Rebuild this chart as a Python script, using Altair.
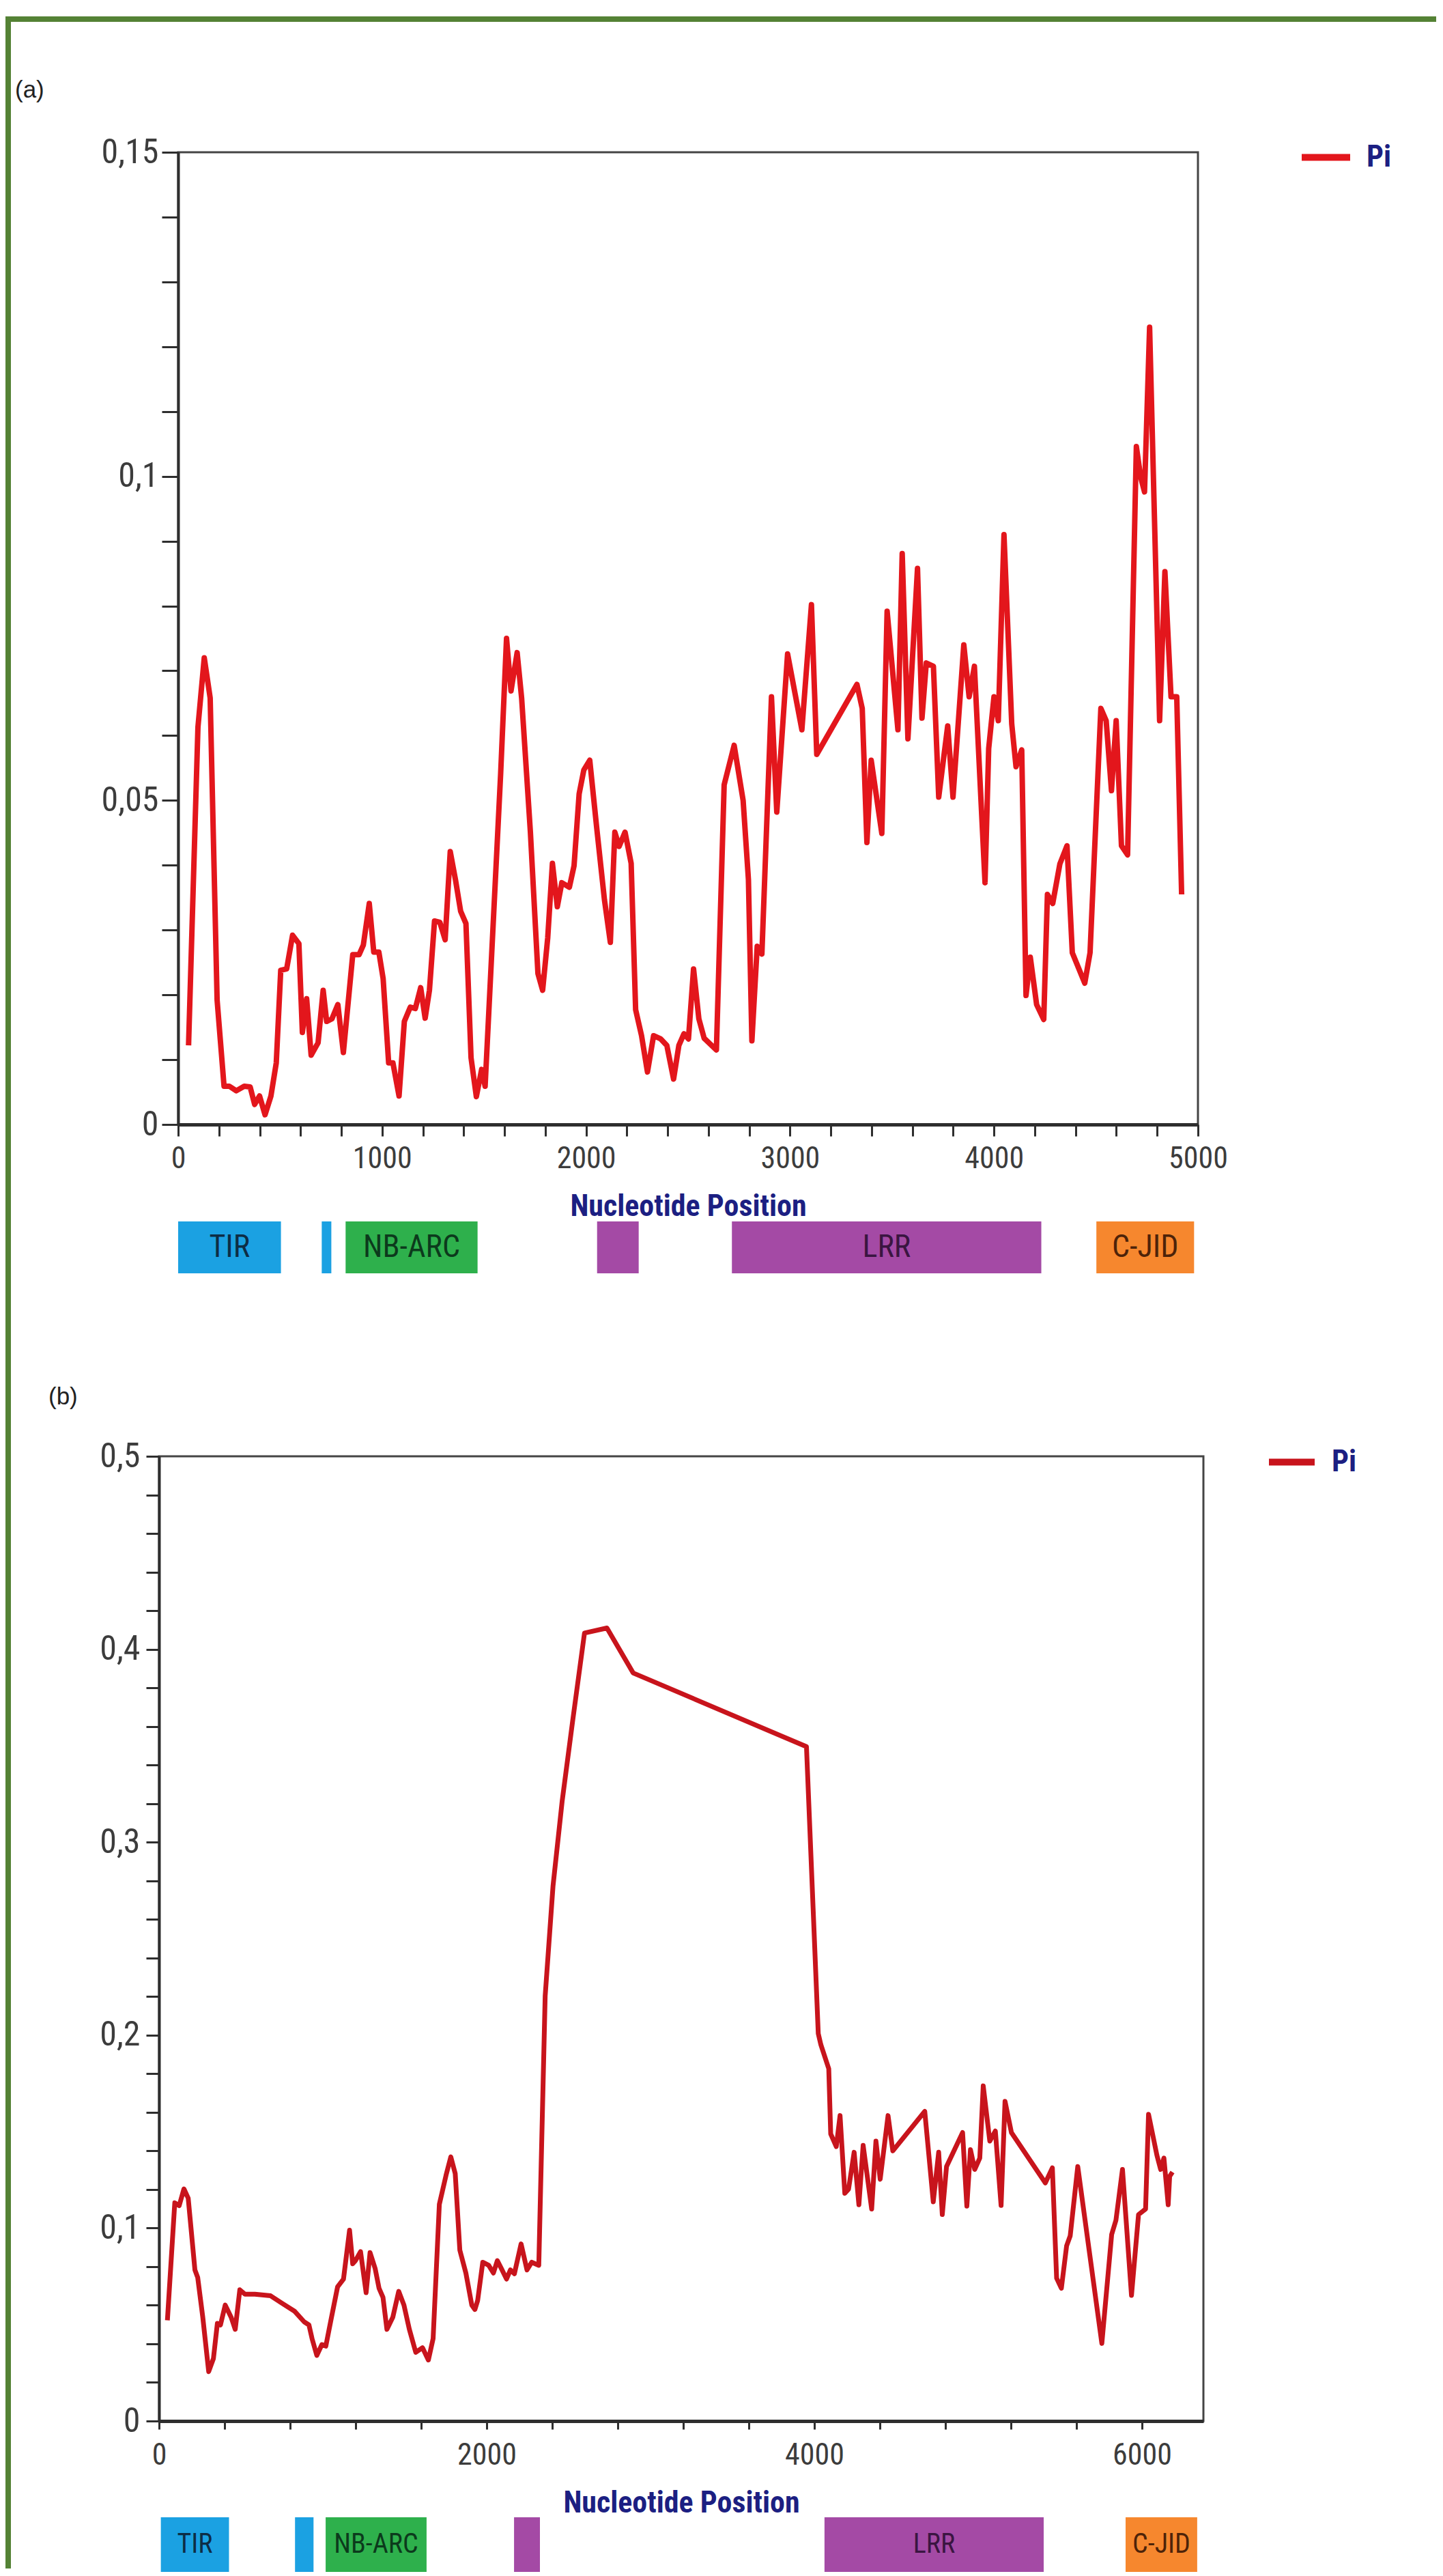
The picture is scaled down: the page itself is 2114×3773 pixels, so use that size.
import altair as alt
import pandas as pd

# ------------------------------------------------------------------ data
# Panel (a): nucleotide diversity (Pi) along the alignment
A_POS = [51, 97, 128, 157, 191, 225, 251, 285, 324, 353,
         375, 399, 426, 455, 481, 503, 532, 561, 592, 609,
         630, 652, 686, 711, 728, 754, 783, 810, 856, 887,
         908, 937, 959, 984, 1005, 1032, 1053, 1083, 1109, 1138,
         1163, 1189, 1211, 1232, 1257, 1283, 1309, 1334, 1360, 1385,
         1411, 1436, 1462, 1488, 1505, 1581, 1610, 1632, 1662, 1684,
         1727, 1764, 1787, 1812, 1835, 1859, 1881, 1918, 1941, 1966,
         1989, 2018, 2052, 2090, 2119, 2141, 2162, 2191, 2221, 2243,
         2272, 2301, 2331, 2366, 2396, 2429, 2455, 2480, 2502, 2527,
         2553, 2579, 2639, 2677, 2726, 2770, 2796, 2813, 2839, 2862,
         2909, 2935, 2988, 3058, 3105, 3131, 3328, 3354, 3377, 3398,
         3450, 3476, 3529, 3550, 3578, 3625, 3647, 3668, 3703, 3729,
         3773, 3799, 3852, 3878, 3904, 3956, 3974, 4000, 4021, 4049,
         4087, 4108, 4136, 4157, 4178, 4209, 4244, 4262, 4288, 4323,
         4358, 4384, 4445, 4471, 4524, 4550, 4576, 4599, 4625, 4655,
         4698, 4719, 4738, 4763, 4812, 4838, 4868, 4896, 4920]
A_PI = [0.0122, 0.0613, 0.072, 0.0658, 0.0192, 0.0059, 0.0059, 0.0052, 0.0059, 0.0058,
        0.0031, 0.0044, 0.0015, 0.0044, 0.0095, 0.0238, 0.024, 0.0292, 0.0279, 0.0142,
        0.0194, 0.0107, 0.0126, 0.0207, 0.0159, 0.0163, 0.0185, 0.0111, 0.0262, 0.0262,
        0.0277, 0.0341, 0.0266, 0.0266, 0.0225, 0.0095, 0.0095, 0.0044, 0.0159, 0.0181,
        0.0179, 0.0211, 0.0164, 0.0207, 0.0314, 0.0312, 0.0285, 0.0421, 0.0377, 0.0329,
        0.031, 0.0103, 0.0043, 0.0085, 0.0059, 0.054, 0.075, 0.0669, 0.0728, 0.0658,
        0.0451, 0.0233, 0.0207, 0.0288, 0.0403, 0.0336, 0.0373, 0.0366, 0.0399, 0.051,
        0.0547, 0.0562, 0.0458, 0.0347, 0.0281, 0.0451, 0.0429, 0.0451, 0.0403, 0.0177,
        0.0137, 0.0081, 0.0137, 0.0132, 0.0122, 0.007, 0.0122, 0.014, 0.0132, 0.024,
        0.0163, 0.0133, 0.0115, 0.0524, 0.0585, 0.05, 0.0378, 0.0129, 0.0275, 0.0263,
        0.066, 0.0482, 0.0726, 0.0609, 0.0802, 0.0571, 0.0679, 0.0642, 0.0435, 0.0562,
        0.0449, 0.0792, 0.0609, 0.0881, 0.0595, 0.0858, 0.0627, 0.0712, 0.0707, 0.0505,
        0.0615, 0.0505, 0.074, 0.066, 0.0707, 0.0373, 0.058, 0.066, 0.0623, 0.091,
        0.0618, 0.0552, 0.0578, 0.0199, 0.0258, 0.0185, 0.0162, 0.0355, 0.0341, 0.0402,
        0.043, 0.0265, 0.0218, 0.0265, 0.0642, 0.0623, 0.0515, 0.0623, 0.043, 0.0416,
        0.1046, 0.0999, 0.0976, 0.123, 0.0623, 0.0853, 0.066, 0.066, 0.0355]

# Panel (b)
B_POS = [51, 96, 123, 152, 178, 219, 236, 267, 303, 332,
         356, 375, 404, 440, 465, 493, 525, 585, 681, 753,
         826, 886, 915, 934, 963, 994, 1018, 1049, 1090, 1126,
         1163, 1182, 1199, 1230, 1264, 1288, 1319, 1343, 1367, 1391,
         1427, 1463, 1495, 1528, 1567, 1608, 1644, 1673, 1711, 1752,
         1781, 1808, 1836, 1873, 1909, 1928, 1945, 1976, 2012, 2041,
         2065, 2089, 2121, 2145, 2169, 2210, 2246, 2275, 2318, 2357,
         2405, 2461, 2525, 2597, 2734, 2894, 3952, 4024, 4040, 4088, 4100,
         4134, 4157, 4186, 4209, 4243, 4272, 4298, 4350, 4376, 4402,
         4450, 4479, 4674, 4726, 4759, 4781, 4807, 4905, 4931, 4953,
         4979, 5010, 5031, 5071, 5105, 5140, 5164, 5203, 5410, 5453,
         5479, 5508, 5540, 5562, 5608, 5755, 5815, 5841, 5881, 5936,
         5979, 6022, 6040, 6091, 6114, 6134, 6160, 6169, 6186]
B_PI = [0.0522, 0.1131, 0.1116, 0.1203, 0.1155, 0.0783, 0.0744, 0.0538, 0.0256, 0.0324,
        0.0506, 0.0498, 0.0601, 0.0538, 0.0475, 0.068, 0.0657, 0.0657, 0.0649, 0.0609,
        0.057, 0.0514, 0.0498, 0.0427, 0.034, 0.0396, 0.0388, 0.0522, 0.0696, 0.0736,
        0.0989, 0.0815, 0.0831, 0.0878, 0.0665, 0.0873, 0.0791, 0.0688, 0.0641, 0.0475,
        0.0538, 0.0672, 0.0601, 0.0475, 0.0356, 0.038, 0.0316, 0.0427, 0.1123, 0.1274,
        0.1369, 0.1282, 0.0886, 0.0767, 0.0601, 0.0578, 0.0625, 0.0823, 0.0807, 0.0767,
        0.0831, 0.0791, 0.0736, 0.0783, 0.0763, 0.0918, 0.0783, 0.0823, 0.0807, 0.2203,
        0.2774, 0.3215, 0.363, 0.4084, 0.411, 0.3877, 0.3495, 0.2008, 0.195, 0.1826, 0.1488,
        0.1422, 0.1583, 0.118, 0.1202, 0.1393, 0.1121, 0.1429, 0.1099, 0.1451, 0.1253,
        0.1583, 0.14, 0.1605, 0.1136, 0.1393, 0.107, 0.1319, 0.1495, 0.1114, 0.1407,
        0.1304, 0.1363, 0.1737, 0.1451, 0.1503, 0.1117, 0.1657, 0.1495, 0.1234, 0.1312,
        0.074, 0.0688, 0.0908, 0.096, 0.1319, 0.0402, 0.0967, 0.104, 0.1304, 0.0651,
        0.107, 0.1099, 0.159, 0.1378, 0.1304, 0.1363, 0.1121, 0.1268, 0.129]

assert len(A_POS) == len(A_PI) and len(B_POS) == len(B_PI)

# Protein domain annotation under each panel
DOMAIN_NAMES = ["TIR", "", "NB-ARC", "", "LRR", "C-JID"]
DOMAIN_FILL = ["#1ba1e2", "#1ba1e2", "#2eb04c", "#a44aa5", "#a44aa5", "#f6872e"]
DOMAIN_INK = ["#0d2d45", "#0d2d45", "#0c3a1c", "#3a1541", "#3a1541", "#4d2309"]
A_DOM_START = [0, 704, 821, 2054, 2715, 4502]
A_DOM_END = [504, 751, 1468, 2258, 4232, 4981]
B_DOM_START = [11, 830, 1017, 2167, 4062, 5900]
B_DOM_END = [427, 943, 1633, 2325, 5400, 6337]

# Axes
A_X_DOMAIN = [0, 5000]
A_Y_DOMAIN = [0, 0.15]
A_X_TICKS = [0, 200, 400, 600, 800, 1000, 1200, 1400, 1600, 1800, 2000, 2200, 2400,
             2600, 2800, 3000, 3200, 3400, 3600, 3800, 4000, 4200, 4400, 4600, 4800, 5000]
A_X_LABEL_VALUES = [0, 1000, 2000, 3000, 4000, 5000]
A_X_LABEL_TEXT = ["0", "1000", "2000", "3000", "4000", "5000"]
A_Y_TICKS = [0, 0.01, 0.02, 0.03, 0.04, 0.05, 0.06, 0.07, 0.08, 0.09, 0.1,
             0.11, 0.12, 0.13, 0.14, 0.15]
A_Y_LABEL_VALUES = [0, 0.05, 0.1, 0.15]
A_Y_LABEL_TEXT = ["0", "0,05", "0,1", "0,15"]

B_X_DOMAIN = [0, 6375]
B_Y_DOMAIN = [0, 0.5]
B_X_TICKS = [0, 400, 800, 1200, 1600, 2000, 2400, 2800, 3200, 3600, 4000,
             4400, 4800, 5200, 5600, 6000]
B_X_LABEL_VALUES = [0, 2000, 4000, 6000]
B_X_LABEL_TEXT = ["0", "2000", "4000", "6000"]
B_Y_TICKS = [0, 0.02, 0.04, 0.06, 0.08, 0.1, 0.12, 0.14, 0.16, 0.18, 0.2,
             0.22, 0.24, 0.26, 0.28, 0.3, 0.32, 0.34, 0.36, 0.38, 0.4,
             0.42, 0.44, 0.46, 0.48, 0.5]
B_Y_LABEL_VALUES = [0, 0.1, 0.2, 0.3, 0.4, 0.5]
B_Y_LABEL_TEXT = ["0", "0,1", "0,2", "0,3", "0,4", "0,5"]

SERIES = "Pi"
X_TITLE = "Nucleotide Position"

# ------------------------------------------------------------------ style
FONT_N = "'Liberation Sans Narrow', 'Arial Narrow', 'Roboto Condensed', 'Liberation Sans', sans-serif"
FONT_R = "'Liberation Sans', Arial, sans-serif"
GREEN = "#548235"
NAVY = "#1c1f82"
AXIS = "#2e2e2e"
LABEL = "#3c3c3c"


def label_expr(values, texts):
    expr = "''"
    for v, t in reversed(list(zip(values, texts))):
        expr = f"datum.value === {v} ? '{t}' : {expr}"
    return expr


def line_panel(pos, pi, field, xdom, xticks, xlv, xlt, ydom, yticks, ylv, ylt,
               w, h, color, sw, xtick, ytick, ylabpad, yext, leg_x, leg_y, sym_len,
               lab_off, letter, let_x, let_y):
    df = pd.DataFrame({"pos": pos, "pi": pi, field: SERIES})
    yaxis_kw = dict(values=yticks, labelExpr=label_expr(ylv, ylt), title=None,
                    tickSize=ytick, tickWidth=3, tickColor=AXIS,
                    domainColor=AXIS, domainWidth=4, grid=False,
                    labelFont=FONT_N, labelFontSize=50, labelColor=LABEL,
                    labelPadding=ylabpad, labelOverlap=False, labelFlush=False)
    if yext is not None:
        yaxis_kw.update(minExtent=yext, maxExtent=yext)
    line = alt.Chart(df).mark_line(strokeWidth=sw, strokeJoin="round").encode(
        x=alt.X("pos:Q", scale=alt.Scale(domain=xdom, nice=False, zero=False),
                axis=alt.Axis(values=xticks, labelExpr=label_expr(xlv, xlt),
                              title=X_TITLE, titleFont=FONT_N, titleFontSize=44,
                              titleFontWeight="bold", titleColor=NAVY, titlePadding=26,
                              tickSize=xtick, tickWidth=3, tickColor=AXIS,
                              domainColor=AXIS, domainWidth=5, grid=False,
                              labelFont=FONT_N, labelFontSize=44, labelColor=LABEL,
                              labelPadding=28 - xtick, labelOverlap=False,
                              labelFlush=False)),
        y=alt.Y("pi:Q", scale=alt.Scale(domain=ydom, nice=False),
                axis=alt.Axis(**yaxis_kw)),
        color=alt.Color(f"{field}:N", scale=alt.Scale(domain=[SERIES], range=[color]),
                        legend=alt.Legend(title=None, orient="none", legendX=leg_x,
                                          legendY=leg_y, symbolType="stroke",
                                          symbolSize=sym_len * sym_len,
                                          symbolStrokeWidth=10, padding=0,
                                          labelFont=FONT_N, labelFontSize=44,
                                          labelFontWeight="bold", labelColor=NAVY,
                                          labelOffset=lab_off)),
    )
    tag = alt.Chart(pd.DataFrame({"t": [letter]})).mark_text(
        align="left", baseline="top", font=FONT_R, fontSize=35, color="#222222"
    ).encode(x=alt.value(let_x), y=alt.value(let_y), text="t:N")
    return alt.layer(line, tag).properties(
        width=w, height=h,
        view=alt.ViewBackground(stroke="#444444", strokeWidth=3, fill="white"))


def domain_bar(starts, ends, xdom, w, h, fsize):
    df = pd.DataFrame({"start": starts, "end": ends, "name": DOMAIN_NAMES,
                       "fill": DOMAIN_FILL, "ink": DOMAIN_INK})
    df["mid"] = (df["start"] + df["end"]) / 2
    xs = alt.Scale(domain=xdom, nice=False, zero=False)
    rects = alt.Chart(df).mark_rect().encode(
        x=alt.X("start:Q", scale=xs, axis=None), x2="end:Q",
        color=alt.Color("fill:N", scale=None))
    texts = alt.Chart(df).mark_text(font=FONT_N, fontSize=fsize, baseline="middle").encode(
        x=alt.X("mid:Q", scale=xs, axis=None), text="name:N",
        color=alt.Color("ink:N", scale=None))
    return alt.layer(rects, texts).properties(
        width=w, height=h, view=alt.ViewBackground(stroke=None))


def block(w, h, fill=None):
    view = alt.ViewBackground(fill=fill, stroke=None) if fill else alt.ViewBackground(stroke=None)
    return alt.Chart(pd.DataFrame({"v": [0]})).mark_point(
        size=0, opacity=0, strokeWidth=0).properties(width=w, height=h, view=view)


# legend positions are measured from the row origin (the inner frame edge)
line_a = line_panel(A_POS, A_PI, "series_a", A_X_DOMAIN, A_X_TICKS, A_X_LABEL_VALUES,
                    A_X_LABEL_TEXT, A_Y_DOMAIN, A_Y_TICKS, A_Y_LABEL_VALUES,
                    A_Y_LABEL_TEXT, 1494, 1424, "#e3161c", 8, 17, 24, 5, None,
                    1886, -33, 71, 19, "(a)", -239, -108)
bars_a = domain_bar(A_DOM_START, A_DOM_END, A_X_DOMAIN, 1494, 76, 46)

line_b = line_panel(B_POS, B_PI, "series_b", B_X_DOMAIN, B_X_TICKS, B_X_LABEL_VALUES,
                    B_X_LABEL_TEXT, B_Y_DOMAIN, B_Y_TICKS, B_Y_LABEL_VALUES,
                    B_Y_LABEL_TEXT, 1530, 1413, "#c8141c", 7, 12, 19, 9, 211,
                    1838, -30, 67, 20, "(b)", -162, -104)
bars_b = domain_bar(B_DOM_START, B_DOM_END, B_X_DOMAIN, 1530, 80, 40)

# each panel: curve on top, domain map under it
panel_a = alt.concat(line_a, bars_a, columns=1, spacing=142, bounds="flush", align="none")
panel_b = alt.concat(line_b, bars_b, columns=1, spacing=141, bounds="flush", align="none")

# a 4px lead-in so each panel's left overhang is pushed inside the frame
row_a = alt.concat(block(4, 1), panel_a, spacing=0, align="none")
row_b = alt.concat(block(4, 1), panel_b, spacing=0, align="none")

panels = alt.concat(row_a, row_b, columns=1, spacing=162, align="none").resolve_scale(
    color="independent")
right_side = alt.concat(block(2088, 8, GREEN), panels, columns=1, spacing=81,
                        align="none").resolve_scale(color="independent")

chart = alt.concat(block(8, 3738, GREEN), right_side,
                   spacing=0, align="none").resolve_scale(
    color="independent").properties(
    padding={"left": 0, "top": 16, "right": 0, "bottom": 0},
    background="white")

chart.save("out.html", embed_options={"renderer": "svg", "actions": False})
